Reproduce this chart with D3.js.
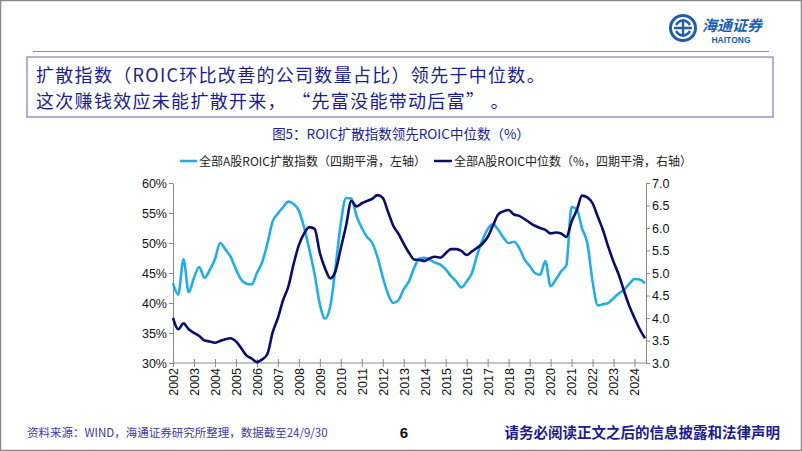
<!DOCTYPE html>
<html><head><meta charset="utf-8">
<script src="https://cdn.jsdelivr.net/npm/d3@7"></script>
<style>
body{margin:0;background:#fff;}
svg{display:block;font-family:"Liberation Sans",Arial,sans-serif;}
.cjk{font-family:"Noto Sans CJK SC","Noto Sans",sans-serif;}
</style></head>
<body><svg id="c" width="802" height="451"></svg>
<script>
// ---- data ----
const years = [2002,2003,2004,2005,2006,2007,2008,2009,2010,2011,2012,2013,2014,2015,2016,2017,2018,2019,2020,2021,2022,2023,2024];
const leftTicks = [30,35,40,45,50,55,60];
const rightTicks = [3.0,3.5,4.0,4.5,5.0,5.5,6.0,6.5,7.0];
// quarterly 2002Q1 .. 2024Q3
const diffusion = [43.3,41.4,47.3,41.8,44.2,46.0,44.2,45.5,47.3,50.0,48.9,47.7,45.6,43.9,43.2,43.1,
  45.0,46.8,49.9,53.6,54.9,56.0,56.9,56.5,55.4,52.6,48.9,44.8,39.8,37.4,39.5,46.0,
  53.3,57.5,57.4,54.5,52.5,51.0,50.0,47.6,44.3,41.5,40.0,40.5,42.3,43.6,45.9,47.4,
  47.55,47.2,46.7,46.4,45.6,44.5,43.6,42.6,43.6,45.0,48.0,50.5,52.3,53.1,52.2,50.9,
  50.0,50.2,49.2,47.3,46.2,45.0,44.7,47.0,42.8,43.9,45.3,46.3,56.0,55.6,52.4,50.0,
  43.6,39.6,39.8,40.0,40.8,41.6,42.2,43.2,44.0,43.9,43.3];
const median = [4.0,3.75,3.88,3.75,3.67,3.6,3.5,3.48,3.45,3.49,3.53,3.55,3.48,3.33,3.17,3.1,
  3.02,3.08,3.2,3.68,4.0,4.4,4.7,5.2,5.62,5.88,6.02,5.98,5.45,5.1,4.88,5.05,
  5.55,6.05,6.6,6.48,6.55,6.6,6.65,6.73,6.67,6.36,6.05,5.87,5.65,5.45,5.3,5.29,
  5.27,5.33,5.36,5.34,5.44,5.53,5.53,5.49,5.4,5.48,5.56,5.65,5.8,6.05,6.3,6.37,
  6.4,6.3,6.27,6.2,6.12,6.05,6.0,5.96,5.88,5.9,5.88,5.8,6.14,6.4,6.72,6.68,
  6.55,6.25,5.95,5.58,5.25,4.96,4.6,4.27,4.0,3.75,3.55];
const quarters = [];
years.forEach(y => [1,2,3,4].forEach(q => quarters.push(y + "Q" + q)));
quarters.length = diffusion.length;

const colLight = "#22aee4", colDark = "#0c0c6e", textBlue = "#1c1c8c";

const svg = d3.select("#c");
svg.append("rect").attr("x",0.5).attr("y",0.5).attr("width",801).attr("height",450)
  .attr("fill","#fff").attr("stroke","#8a8a8a").attr("stroke-width",1.5);

// ---- header / logo ----
const logo = svg.append("g").attr("transform","translate(683,28)");
logo.append("circle").attr("r",12.5).attr("fill","none").attr("stroke","#1d5fae").attr("stroke-width",3);
logo.append("path").attr("d","M-7,-3 C-3,-9 3,-9 7,-3 M-7,3 C-3,9 3,9 7,3 M0,-9 L0,9 M-9,0 L9,0")
  .attr("fill","none").attr("stroke","#1d5fae").attr("stroke-width",2.4);
svg.append("text").attr("class","cjk").attr("x",702).attr("y",31).attr("font-size",15)
  .attr("font-style","italic").attr("font-weight","bold").attr("fill","#1d5fae").text("海通证券");
svg.append("text").attr("x",731).attr("y",43).attr("font-size",8.5).attr("font-weight","bold")
  .attr("text-anchor","middle").attr("fill","#1d5fae").text("HAITONG");
svg.append("line").attr("x1",33).attr("x2",769).attr("y1",51.5).attr("y2",51.5)
  .attr("stroke","#8c8cc8").attr("stroke-width",1.2);

// ---- text box ----
svg.append("rect").attr("x",27).attr("y",57).attr("width",746).attr("height",60)
  .attr("fill","none").attr("stroke","#7d7db8").attr("stroke-width",1.2);
svg.append("text").attr("class","cjk").attr("x",36).attr("y",82).attr("font-size",18)
  .attr("letter-spacing",1.3).attr("fill",textBlue).text("扩散指数（ROIC环比改善的公司数量占比）领先于中位数。");
svg.append("text").attr("class","cjk").attr("x",36).attr("y",108).attr("font-size",18)
  .attr("letter-spacing",1.3).attr("fill",textBlue).text("这次赚钱效应未能扩散开来， “先富没能带动后富” 。");

// ---- title & legend ----
svg.append("text").attr("class","cjk").attr("x",401).attr("y",139).attr("font-size",13.5)
  .attr("text-anchor","middle").attr("fill","#22228e").text("图5：ROIC扩散指数领先ROIC中位数（%）");
const lg = svg.append("g").attr("class","cjk").attr("font-size",12).attr("fill","#222");
lg.append("line").attr("x1",180).attr("x2",197).attr("y1",161).attr("y2",161).attr("stroke",colLight).attr("stroke-width",2.5);
lg.append("text").attr("x",199).attr("y",165.5).text("全部A股ROIC扩散指数（四期平滑，左轴）");
lg.append("line").attr("x1",434).attr("x2",452).attr("y1",161).attr("y2",161).attr("stroke",colDark).attr("stroke-width",2.5);
lg.append("text").attr("x",454).attr("y",165.5).text("全部A股ROIC中位数（%，四期平滑，右轴）");

// ---- scales ----
const x = d3.scaleLinear().domain([0, quarters.length - 1]).range([173, 645]);
const yL = d3.scaleLinear().domain([30,60]).range([363,183]);
const yR = d3.scaleLinear().domain([3,7]).range([363,183]);

const axisCol = "#8a8a8a";
const gL = svg.append("g").attr("transform","translate(173,0)")
  .call(d3.axisLeft(yL).tickValues(leftTicks).tickFormat(d => d + "%").tickSizeInner(4).tickSizeOuter(0));
const gR = svg.append("g").attr("transform","translate(646,0)")
  .call(d3.axisRight(yR).tickValues(rightTicks).tickFormat(d3.format(".1f")).tickSizeInner(4).tickSizeOuter(0));
[gL,gR].forEach(g => {
  g.selectAll("path,line").attr("stroke",axisCol);
  g.selectAll("text").attr("font-size",12.5).attr("fill","#111")
   .attr("font-family","'Liberation Sans',Arial,sans-serif");
});
gL.selectAll("text").attr("x",-6);
gR.selectAll("text").attr("x",6);

const tickIdx = years.map((y,i) => i*4);
const gX = svg.append("g").attr("transform","translate(0,363)")
  .call(d3.axisBottom(x).tickValues(tickIdx).tickFormat((d,i) => years[i]).tickSizeInner(4).tickSizeOuter(0));
gX.select(".domain").attr("d","M173,0H646");
gX.selectAll("path,line").attr("stroke",axisCol);
gX.selectAll(".tick line").attr("y1",-4).attr("y2",4);
gX.selectAll("text").attr("font-size",12.5).attr("fill","#111")
  .attr("font-family","'Liberation Sans',Arial,sans-serif")
  .attr("transform","rotate(-90)").attr("text-anchor","end").attr("x",-5).attr("y",0).attr("dy","0.35em");

// ---- lines ----
const lineL = d3.line().x((d,i) => x(i)).y(d => yL(d)).curve(d3.curveMonotoneX);
const lineR = d3.line().x((d,i) => x(i)).y(d => yR(d)).curve(d3.curveMonotoneX);
svg.append("path").datum(diffusion).attr("d",lineL).attr("fill","none")
  .attr("stroke",colLight).attr("stroke-width",2.6).attr("stroke-linejoin","round");
svg.append("path").datum(median).attr("d",lineR).attr("fill","none")
  .attr("stroke",colDark).attr("stroke-width",2.6).attr("stroke-linejoin","round");

// ---- footer ----
svg.append("text").attr("class","cjk").attr("x",27).attr("y",437).attr("font-size",11.5)
  .attr("fill","#3b3b9c").text("资料来源：WIND，海通证券研究所整理，数据截至24/9/30");
svg.append("text").attr("x",404).attr("y",438).attr("font-size",15).attr("font-weight","bold")
  .attr("text-anchor","middle").attr("fill","#111").text("6");
svg.append("text").attr("class","cjk").attr("x",780).attr("y",438).attr("font-size",14.5)
  .attr("font-weight","bold").attr("text-anchor","end").attr("fill",textBlue).text("请务必阅读正文之后的信息披露和法律声明");
</script></body></html>
